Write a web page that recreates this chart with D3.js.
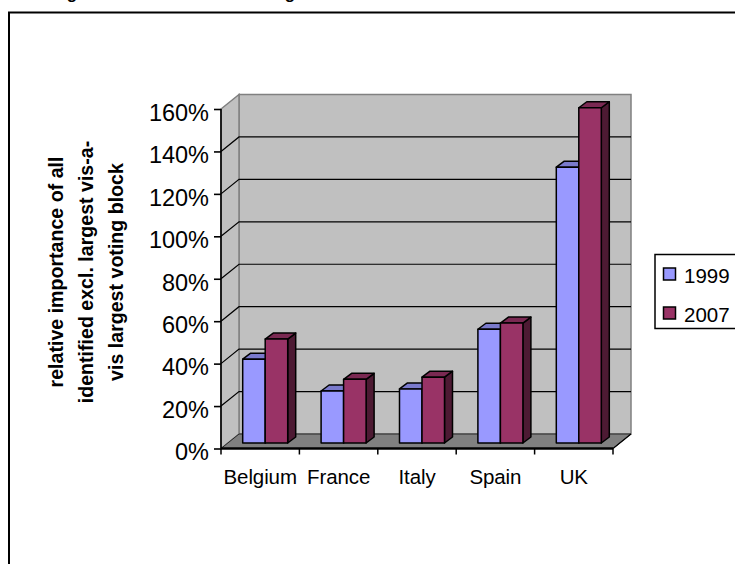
<!DOCTYPE html>
<html><head><meta charset="utf-8">
<style>html,body{margin:0;padding:0;background:#fff;overflow:hidden}svg{display:block}text{font-family:"Liberation Sans",Arial,sans-serif;fill:#000}</style>
<script src="https://cdn.jsdelivr.net/npm/d3@7"></script>
</head><body>
<svg id="c" width="735" height="564"></svg>
<script>
const categories = ["Belgium","France","Italy","Spain","UK"];
const seriesNames = ["1999","2007"];
const values1999 = [39.5,24.5,25.5,53.6,130];
const values2007 = [49,30,31,56.5,158];
const yTicks = [0,20,40,60,80,100,120,140,160];
const axisTitleLines = ["relative importance of all","identified excl. largest vis-a-","vis largest voting block"];
const colors = {"1999":{front:"#9999FF",top:"#7A7ACC",side:"#4D4D80"},"2007":{front:"#993366",top:"#7A2952",side:"#4D1A33"}};

const svg = d3.select("#c");
const x = d3.scaleBand().domain(categories).range([221,613]);
const y = d3.scaleLinear().domain([0,160]).range([448.5,109]);
const dx = 18, dy = 14.5;

// cut-off title fragments at the image top
[72,290].forEach(px=>svg.append("text").attr("x",px).attr("y",-1).attr("text-anchor","middle").attr("font-size",17).attr("font-weight","bold").text("g"));

// outer frame
svg.append("rect").attr("x",9).attr("y",12.5).attr("width",800).attr("height",700).attr("fill","none").attr("stroke","#000").attr("stroke-width",2);

// walls & floor
const [x0,x1] = x.range();
const yb = y(0), yt = y(160);
svg.append("path").attr("d",`M${x0+dx},${yt-dy}H${x1+dx}V${yb-dy}H${x0+dx}Z`).attr("fill","#C0C0C0").attr("stroke","#808080").attr("stroke-width",1.5);
svg.append("path").attr("d",`M${x0},${yt}L${x0+dx},${yt-dy}V${yb-dy}L${x0},${yb}Z`).attr("fill","#C0C0C0").attr("stroke","#808080").attr("stroke-width",1.5);
svg.append("path").attr("d",`M${x0},${yb}L${x0+dx},${yb-dy}H${x1+dx}L${x1},${yb}Z`).attr("fill","#808080").attr("stroke","#000").attr("stroke-width",0.7);

// gridlines
yTicks.filter(t=>t>0&&t<160).forEach(t=>{
  svg.append("path").attr("d",`M${x0},${y(t)}L${x0+dx},${y(t)-dy}H${x1+dx}`).attr("fill","none").attr("stroke","#000").attr("stroke-width",1.2);
});
svg.append("path").attr("d",`M${x1},${yb}L${x1+dx},${yb-dy}`).attr("fill","none").attr("stroke","#000").attr("stroke-width",1.2);

// axes
const gy = svg.append("g").attr("transform",`translate(${x0},0)`).call(d3.axisLeft(y).tickValues(yTicks).tickFormat(d=>d+"%").tickSize(7).tickSizeOuter(0));
gy.selectAll("path,line").attr("stroke","#000").attr("stroke-width",1.6);
gy.selectAll("text").attr("font-size",23.5).attr("font-family",'"Liberation Sans"').attr("x",-12).attr("dy","0.48em").attr("fill","#000");
gy.select("path").attr("d",`M0,${yt}V${yb}`);

const gx = svg.append("g").attr("transform",`translate(0,${yb})`).call(d3.axisBottom(x).tickSize(0).tickPadding(21));
gx.select("path").attr("stroke","#000").attr("stroke-width",2.4).attr("d",`M${x0},0H${x1}`);
gx.selectAll("text").attr("font-size",20.5).attr("font-family",'"Liberation Sans"').attr("fill","#000").attr("letter-spacing",-0.1);
categories.concat(["_end"]).forEach((c,i)=>{
  const px = x0 + i*x.step();
  gx.append("line").attr("x1",px).attr("x2",px).attr("y1",0).attr("y2",6).attr("stroke","#000").attr("stroke-width",1.5);
});

// bars
const bw = 22.5, bdx = 8, bdy = 6, baseShift = 5.5, innerOffset = 16.7 + 5;
const groups = [values1999, values2007];
categories.forEach((c,ci)=>{
  groups.forEach((vals,si)=>{
    const col = colors[seriesNames[si]];
    const l = x(c) + innerOffset + si*bw, r = l+bw;
    const b = y(0)-baseShift, t = y(vals[ci])-baseShift;
    const g = svg.append("g").attr("stroke","#000").attr("stroke-width",1.5).attr("stroke-linejoin","round");
    g.append("path").attr("d",`M${r},${t}L${r+bdx},${t-bdy}V${b-bdy}L${r},${b}Z`).attr("fill",col.side);
    g.append("path").attr("d",`M${l},${t}L${l+bdx},${t-bdy}H${r+bdx}L${r},${t}Z`).attr("fill",col.top);
    g.append("rect").attr("x",l).attr("y",t).attr("width",bw).attr("height",b-t).attr("fill",col.front);
  });
});

// y-axis title
const titleX = [63,93,122.5];
axisTitleLines.forEach((s,i)=>{
  svg.append("text").attr("transform",`translate(${titleX[i]},272) rotate(-90)`).attr("text-anchor","middle").attr("font-size",19.6).attr("font-weight","bold").text(s);
});

// legend
svg.append("rect").attr("x",655).attr("y",254.5).attr("width",120).attr("height",74).attr("fill","#fff").attr("stroke","#000").attr("stroke-width",1.5);
seriesNames.forEach((n,i)=>{
  const top = 268+i*39;
  svg.append("rect").attr("x",663.5).attr("y",top).attr("width",12).attr("height",12).attr("fill",colors[n].front).attr("stroke","#000").attr("stroke-width",1.5);
  svg.append("text").attr("x",684).attr("y",top+15).attr("font-size",20.5).text(n);
});
</script>
</body></html>
